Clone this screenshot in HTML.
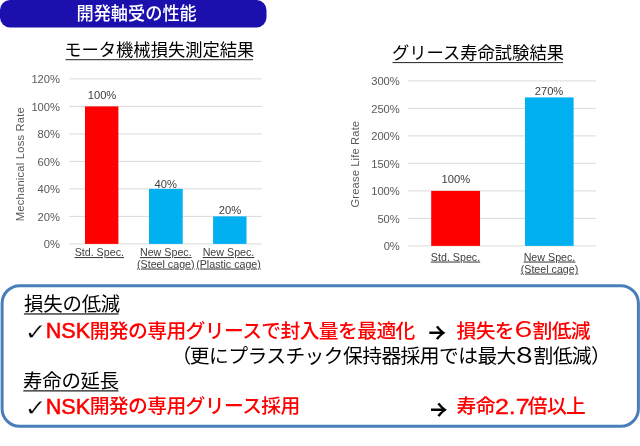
<!DOCTYPE html>
<html lang="ja">
<head>
<meta charset="utf-8">
<title>開発軸受の性能</title>
<style>
html,body{margin:0;padding:0;background:#fff;}
body{width:640px;height:446px;overflow:hidden;position:relative;}
svg{display:block;position:absolute;left:0;top:0;}
text{font-family:"Liberation Sans","Noto Sans CJK JP",sans-serif;}
.ax{font-size:11.2px;fill:#595959;}
.dl{font-size:11.2px;fill:#404040;}
.cl{font-size:10.7px;fill:#404040;}
.ttl{font-size:17.3px;fill:#000;font-weight:400;}
.jb{font-size:19.8px;letter-spacing:-0.65px;fill:#000;font-weight:400;}
.jr{font-size:19.8px;letter-spacing:-0.65px;fill:#ff0000;font-weight:500;}
.jh{font-size:19.4px;letter-spacing:-0.2px;fill:#000;font-weight:400;}
.lr{font-size:22.2px;fill:#ff0000;stroke:#ff0000;stroke-width:0.5px;}
.lr2{font-size:22.2px;fill:#ff0000;stroke:#ff0000;stroke-width:0.35px;}
.ck{font-family:"DejaVu Sans",sans-serif;font-size:22.8px;fill:#000;stroke:#fff;stroke-width:0.45px;}
.ar{font-family:"Noto Sans CJK JP",sans-serif;font-size:29px;font-weight:500;fill:#000;}
</style>
</head>
<body>
<svg width="640" height="446" viewBox="0 0 640 446">
<defs><clipPath id="ca1"><rect x="429.3" y="320" width="30" height="30"/></clipPath><clipPath id="ca2"><rect x="430.9" y="396" width="30" height="30"/></clipPath></defs>
<!-- header -->
<rect x="0" y="0" width="266.5" height="27.5" rx="10" ry="10" fill="#1b10ae"/>
<text transform="translate(136.6,19.9) scale(1,1.05)" text-anchor="middle" font-size="17.2" font-weight="500" fill="#fff">開発軸受の性能</text>

<!-- left chart -->
<text class="ttl" x="159.3" y="56.3" text-anchor="middle">モータ機械損失測定結果</text>
<rect x="65.5" y="59.2" width="187.5" height="1" fill="#222"/>
<g stroke="#dbdbdb" stroke-width="1">
<line x1="69" x2="262" y1="243.9" y2="243.9"/>
<line x1="69" x2="262" y1="216.4" y2="216.4"/>
<line x1="69" x2="262" y1="188.9" y2="188.9"/>
<line x1="69" x2="262" y1="161.4" y2="161.4"/>
<line x1="69" x2="262" y1="133.9" y2="133.9"/>
<line x1="69" x2="262" y1="106.4" y2="106.4"/>
<line x1="69" x2="262" y1="78.9" y2="78.9"/>
</g>
<g class="ax" text-anchor="end">
<text x="60" y="248.1">0%</text>
<text x="60" y="220.6">20%</text>
<text x="60" y="193.1">40%</text>
<text x="60" y="165.6">60%</text>
<text x="60" y="138.1">80%</text>
<text x="60" y="110.6">100%</text>
<text x="60" y="83.1">120%</text>
</g>
<text class="ax" transform="translate(23.9,164.2) rotate(-90)" text-anchor="middle" textLength="114" lengthAdjust="spacing">Mechanical Loss Rate</text>
<rect x="85" y="106.4" width="33.4" height="137.5" fill="#ff0000"/>
<rect x="149" y="188.9" width="33.7" height="55" fill="#00b0f0"/>
<rect x="213.1" y="216.4" width="33.4" height="27.5" fill="#00b0f0"/>
<g class="dl" text-anchor="middle">
<text x="102" y="99">100%</text>
<text x="165.7" y="187.8">40%</text>
<text x="230" y="214">20%</text>
</g>
<g class="cl" text-anchor="middle" text-decoration="underline">
<text x="99.3" y="256">Std. Spec.</text>
<text x="165.8" y="256">New Spec.</text>
<text x="165.8" y="267.5">(Steel cage)</text>
<text x="228.5" y="256">New Spec.</text>
<text x="228.5" y="267.5">(Plastic cage)</text>
</g>
<!-- right chart -->
<text class="ttl" x="478" y="59" text-anchor="middle">グリース寿命試験結果</text>
<rect x="392.5" y="62.1" width="170.5" height="1" fill="#222"/>
<g stroke="#dbdbdb" stroke-width="1">
<line x1="408" x2="596" y1="245.9" y2="245.9"/>
<line x1="408" x2="596" y1="218.4" y2="218.4"/>
<line x1="408" x2="596" y1="190.9" y2="190.9"/>
<line x1="408" x2="596" y1="163.4" y2="163.4"/>
<line x1="408" x2="596" y1="135.9" y2="135.9"/>
<line x1="408" x2="596" y1="108.4" y2="108.4"/>
<line x1="408" x2="596" y1="80.9" y2="80.9"/>
</g>
<g class="ax" text-anchor="end">
<text x="399.8" y="250.1">0%</text>
<text x="399.8" y="222.6">50%</text>
<text x="399.8" y="195.1">100%</text>
<text x="399.8" y="167.6">150%</text>
<text x="399.8" y="140.1">200%</text>
<text x="399.8" y="112.6">250%</text>
<text x="399.8" y="85.1">300%</text>
</g>
<text class="ax" transform="translate(359,164.2) rotate(-90)" text-anchor="middle" textLength="86.6" lengthAdjust="spacing">Grease Life Rate</text>
<rect x="431.2" y="190.9" width="48.8" height="55" fill="#ff0000"/>
<rect x="525" y="97.4" width="48.6" height="148.5" fill="#00b0f0"/>
<g class="dl" text-anchor="middle">
<text x="455.8" y="182.6">100%</text>
<text x="549" y="95">270%</text>
</g>
<g class="cl" text-anchor="middle" text-decoration="underline">
<text x="455.5" y="260.5">Std. Spec.</text>
<text x="549.5" y="260.5">New Spec.</text>
<text x="549.5" y="272.5">(Steel cage)</text>
</g>
<!-- bottom box -->
<rect x="2.1" y="285.75" width="636.3" height="140.5" rx="17.5" ry="17.5" fill="#fff" stroke="#4a7ebb" stroke-width="3"/>
<text class="jh" x="24.1" y="310.8">損失の低減</text>
<rect x="23.9" y="313.2" width="94.6" height="1.5" fill="#444"/>
<text class="ck" transform="translate(24.5,339.6) scale(1.17,1.06)">✓</text>
<text class="lr" x="45.7" y="337.75" textLength="44.5" lengthAdjust="spacingAndGlyphs">NSK</text>
<text class="jr" x="89.7" y="337.8" style="letter-spacing:-0.6px">開発の専用グリースで封入量を最適化</text>
<text class="ar" x="417.5" y="344.3" clip-path="url(#ca1)">→</text>
<text class="jr" x="456.5" y="337.8">損失を</text>
<text class="jr" x="509.25" y="337.2" textLength="28.4" lengthAdjust="spacingAndGlyphs" style="font-size:21.3px;letter-spacing:0;font-weight:400">６</text>
<text class="jr" x="532.5" y="337.8">割低減</text>
<text class="jb" x="171.5" y="362.7">（</text>
<text class="jb" x="189.8" y="362.7" style="letter-spacing:-0.58px">更にプラスチック保持器採用では最大</text>
<text class="jb" x="511.2" y="363.2" textLength="26.2" lengthAdjust="spacingAndGlyphs" style="font-size:21.3px;letter-spacing:0;font-weight:400">８</text>
<text class="jb" x="533.6" y="362.7">割低減）</text>
<text class="jh" x="23" y="388.2">寿命の延長</text>
<rect x="23.3" y="390.1" width="95.2" height="1.5" fill="#444"/>
<text class="ck" transform="translate(24.5,415.6) scale(1.17,1.06)">✓</text>
<text class="lr" x="45.7" y="413.75" textLength="44.5" lengthAdjust="spacingAndGlyphs">NSK</text>
<text class="jr" x="89.7" y="413.4" style="letter-spacing:-0.6px">開発の専用グリース採用</text>
<text class="ar" x="419.1" y="420.6" clip-path="url(#ca2)">→</text>
<text class="jr" x="456.5" y="413.4">寿命</text>
<text class="lr2" x="494.9" y="413.75" textLength="34.8" lengthAdjust="spacingAndGlyphs">2.7</text>
<text class="jr" x="527.8" y="413.4" style="letter-spacing:-0.7px">倍以上</text>
</svg>
</body>
</html>
